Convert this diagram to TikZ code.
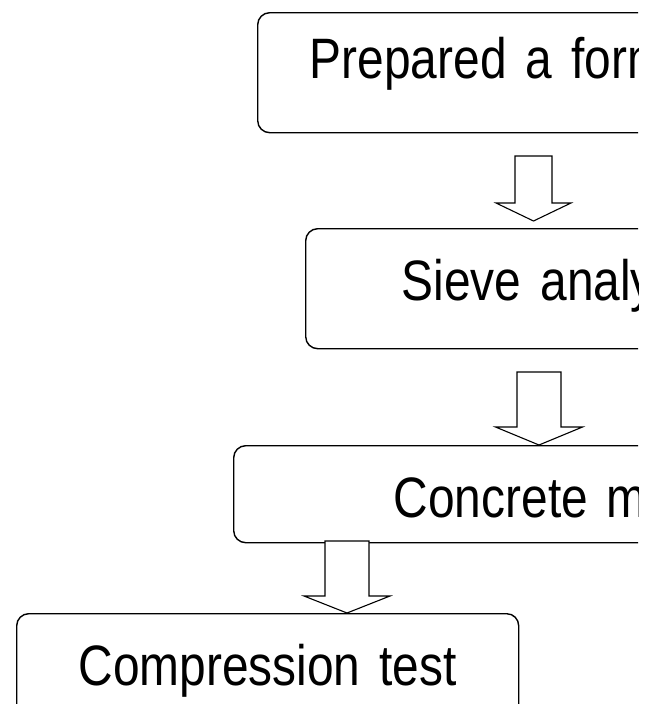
\documentclass[tikz,border=0pt]{standalone}
\usepackage{fontspec}
\usetikzlibrary{calc}
\newfontfamily\stagefont[FakeStretch=0.84, WordSpace=0.6]{Liberation Sans}
\newcommand{\stagetext}{\stagefont\fontsize{57}{60}\selectfont}
\tikzset{
  stage/.style = {draw, rounded corners=12, line width=1.4, anchor=north west,
                  align=left, inner ysep=0pt, font=\stagetext},
  fat/.style = {draw, line width=1.1, line join=miter, fill=white}
}
% block arrow: start, tip, shaft half width, head half width, head length
\newcommand{\fatarrow}[5]{%
  \draw[fat] ($(#1)+(-#3,0)$) -- ($(#2)+(-#3,-#5)$) -- ($(#2)+(-#4,-#5)$) -- (#2)
    -- ($(#2)+(#4,-#5)$) -- ($(#2)+(#3,-#5)$) -- ($(#1)+(#3,0)$) -- cycle;}

\begin{document}
\begin{tikzpicture}[x=1pt, y=-1pt]
	\useasboundingbox (0,0) rectangle (656,704);
	\clip (0,0) rectangle (638,704);

	% Stages
	\node[stage, minimum height=120, text width=416, inner xsep=52,
	      text height=40, text depth=28] (prep) at (257,12) {Prepared a form};
	\node[stage, minimum height=120, text width=330, inner xsep=96,
	      text height=40, text depth=16] (sieve) at (305,228) {Sieve analy};
	\node[stage, minimum height=97, text width=400, inner xsep=160,
	      text height=48, text depth=1] (mix) at (233,445) {Concrete m};
	\node[stage, align=center, minimum height=110, text width=380, inner xsep=61,
	      text height=40, text depth=6] (comp) at (16,613) {Compression test};

	% Arrows
	\coordinate (a1top) at (533.5,156);
	\coordinate (a1tip) at (533.5,221);
	\coordinate (a2top) at (539,372);
	\coordinate (a2tip) at (539,445);
	\coordinate (a3top) at (347,541);
	\coordinate (a3tip) at (347,613);
	\fatarrow{a1top}{a1tip}{18.5}{37.5}{18}
	\fatarrow{a2top}{a2tip}{22}{43.5}{18}
	\fatarrow{a3top}{a3tip}{22}{43}{17}
\end{tikzpicture}
\end{document}
